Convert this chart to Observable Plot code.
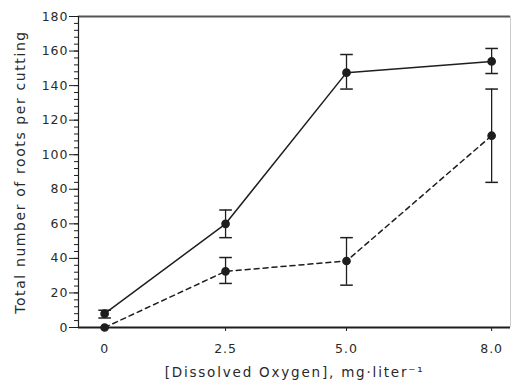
<!DOCTYPE html>
<html>
<head>
<meta charset="utf-8">
<script src="https://cdn.jsdelivr.net/npm/d3@7"></script>
<script src="https://cdn.jsdelivr.net/npm/@observablehq/plot@0.6"></script>
<style>
  html, body { margin: 0; padding: 0; background: #fff; }
  #chart svg { display: block; }
</style>
</head>
<body>
<div id="chart"></div>
<script>
const oxygen = [0, 2.5, 5.0, 8.0];
const xTickLabels = ["0", "2.5", "5.0", "8.0"];
const solidMean = [8, 60, 147.5, 154];
const solidLow = [5.5, 52, 138, 147];
const solidHigh = [10, 68, 158, 161.5];
const dashedMean = [0, 32.5, 38.5, 111];
const dashedLow = [0, 25.5, 24.5, 84];
const dashedHigh = [0, 40.5, 52, 138];
const yMajorTicks = [0, 20, 40, 60, 80, 100, 120, 140, 160, 180];
const yLabel = "Total number of roots per cutting";
const xLabel = "[Dissolved Oxygen], mg\u00B7liter\u207B\u00B9";

const solid = oxygen.map((x, i) => ({x, y: solidMean[i], lo: solidLow[i], hi: solidHigh[i]}));
const dashed = oxygen.map((x, i) => ({x, y: dashedMean[i], lo: dashedLow[i], hi: dashedHigh[i]}));
const bars = [...solid, ...dashed].filter(d => d.hi > d.lo);
const capHalf = 0.13;
const ink = "#1e1e1e";
const font = "DejaVu Sans, sans-serif";

const chart = Plot.plot({
  width: 512,
  height: 388,
  marginLeft: 78,
  marginRight: 2,
  marginTop: 16,
  marginBottom: 61,
  style: {fontFamily: font, fontSize: "12px", color: "#2a2a2a", background: "#fff"},
  x: {domain: [-0.54, 8.39]},
  y: {domain: [0, 180]},
  marks: [
    Plot.ruleY([180], {stroke: "#555", strokeWidth: 2}),
    Plot.ruleX([8.39], {stroke: "#ccc", strokeWidth: 1}),
    Plot.axisY({ticks: d3.range(0, 181, 4), tickSize: 4, text: null, label: null, stroke: ink}),
    Plot.axisY({ticks: yMajorTicks, tickSize: 9, tickPadding: 1, label: null, stroke: ink, fontSize: 12.5, fill: "#2a2a2a"}),
    Plot.axisX({ticks: oxygen, tickFormat: (d, i) => xTickLabels[i], tickSize: 4, tickPadding: 13, label: null, stroke: ink, fontSize: 12.5, fill: "#2a2a2a"}),
    Plot.ruleY([0], {stroke: ink, strokeWidth: 2}),
    Plot.ruleX([-0.54], {stroke: ink, strokeWidth: 1.2}),
    Plot.line(solid, {x: "x", y: "y", stroke: ink, strokeWidth: 1.5}),
    Plot.line(dashed, {x: "x", y: "y", stroke: ink, strokeWidth: 1.5, strokeDasharray: "5,4"}),
    Plot.ruleX(bars, {x: "x", y1: "lo", y2: "hi", stroke: ink, strokeWidth: 1.3}),
    Plot.link(bars, {x1: d => d.x - capHalf, x2: d => d.x + capHalf, y1: "lo", y2: "lo", stroke: ink, strokeWidth: 1.5}),
    Plot.link(bars, {x1: d => d.x - capHalf, x2: d => d.x + capHalf, y1: "hi", y2: "hi", stroke: ink, strokeWidth: 1.5}),
    Plot.dot(solid, {x: "x", y: "y", r: 3.6, fill: ink, stroke: ink}),
    Plot.dot(dashed, {x: "x", y: "y", r: 3.6, fill: ink, stroke: ink}),
    Plot.text([yLabel], {frameAnchor: "left", textAnchor: "middle", rotate: -90, dx: -58, fontSize: 14, fill: "#2a2a2a", text: d => d}),
    Plot.text([xLabel], {frameAnchor: "bottom", textAnchor: "middle", dy: 49, fontSize: 13.5, fill: "#2a2a2a", text: d => d})
  ]
});
d3.select(chart).selectAll("text").each(function() {
  const t = this.textContent;
  if (t === yLabel) this.style.letterSpacing = "1.6px";
  else if (t === xLabel) this.style.letterSpacing = "1.8px";
  else this.style.letterSpacing = "1px";
});
document.getElementById("chart").appendChild(chart);
</script>
</body>
</html>
